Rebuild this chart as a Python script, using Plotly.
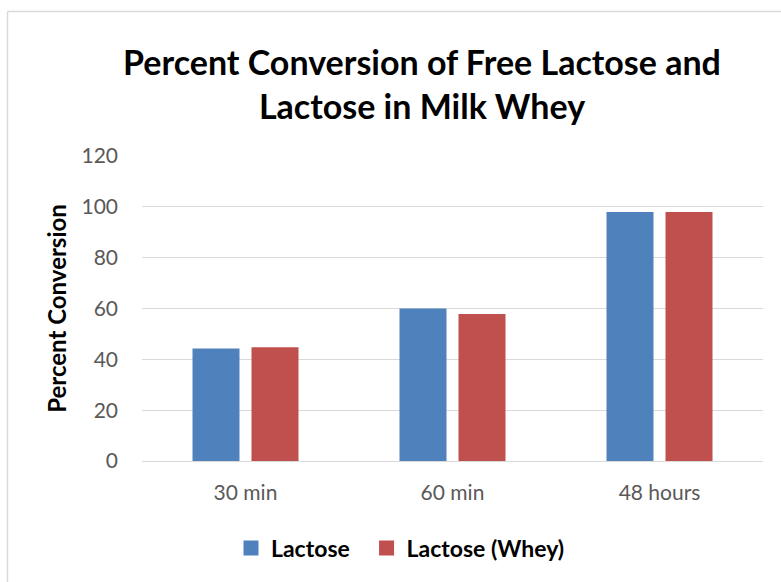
import plotly.graph_objects as go

categories = ["30 min", "60 min", "48 hours"]
lactose = [44.3, 60.0, 98.0]
lactose_whey = [44.8, 57.8, 98.0]
y_ticks = [0, 20, 40, 60, 80, 100, 120]
series_names = ["Lactose", "Lactose (Whey)"]

FONT = "Lato"
BLUE = "#4F81BD"
RED = "#C0504D"
GRID = "#D9D9D9"
colors = [BLUE, RED]

fig = go.Figure()
for name, vals, col in zip(series_names, [lactose, lactose_whey], colors):
    fig.add_trace(go.Bar(name=name, x=categories, y=vals, showlegend=False,
                         marker=dict(color=col, line=dict(width=0))))
# legend keys: square swatches (non-breaking spaces widen the gap between entries)
pads = ["\u00a0\u00a0", ""]
for name, col, pad in zip(series_names, colors, pads):
    fig.add_trace(go.Scatter(name="<b>" + name + "</b>" + pad, x=[None], y=[None],
                             mode="markers",
                             marker=dict(symbol="square", size=15, color=col)))

# plot area geometry in pixels
W, H = 781, 582
L, R, T, B = 142, 18, 156, 121
pw, ph = W - L - R, H - T - B

def px_x(x):
    return (x - L) / pw

def px_y(y):
    return (H - B - y) / ph

fig.update_layout(
    width=W, height=H,
    margin=dict(l=L, r=R, t=T, b=B),
    paper_bgcolor="white", plot_bgcolor="white",
    barmode="group", bargap=0.43, bargroupgap=0.2034,
    font=dict(family=FONT, color="#595959"),
    title=dict(
        text="<b>Percent Conversion of Free Lactose and<br>Lactose in Milk Whey</b>",
        font=dict(family=FONT, size=34, color="black"),
        x=422 / W, xanchor="center", y=1 - 75 / H, yanchor="middle",
    ),
    xaxis=dict(showgrid=False, showline=True, linecolor=GRID, linewidth=1,
               ticks="", tickfont=dict(size=21, color="#595959"),
               ticklabelstandoff=13, fixedrange=True),
    yaxis=dict(range=[0, 120], tickvals=y_ticks, showgrid=True, gridcolor=GRID,
               gridwidth=1, zeroline=False, showline=False, ticks="",
               tickfont=dict(size=21, color="#595959"), ticklabelstandoff=23,
               title=dict(text="<b>Percent Conversion</b>",
                          font=dict(family=FONT, size=24, color="black"),
                          standoff=8)),
    legend=dict(orientation="h", x=px_x(231), xanchor="left",
                y=px_y(548), yanchor="middle",
                font=dict(family=FONT, size=23, color="black"),
                itemsizing="trace", itemwidth=30, traceorder="normal"),
    showlegend=True,
)

# chart-area frame (left and top edges)
fig.add_shape(type="line", xref="paper", yref="paper",
              x0=px_x(7.5), x1=px_x(7.5), y0=px_y(600), y1=px_y(11.5),
              line=dict(color=GRID, width=1.5))
fig.add_shape(type="line", xref="paper", yref="paper",
              x0=px_x(7.5), x1=px_x(800), y0=px_y(11.5), y1=px_y(11.5),
              line=dict(color=GRID, width=1.5))

fig.write_html("out.html")
